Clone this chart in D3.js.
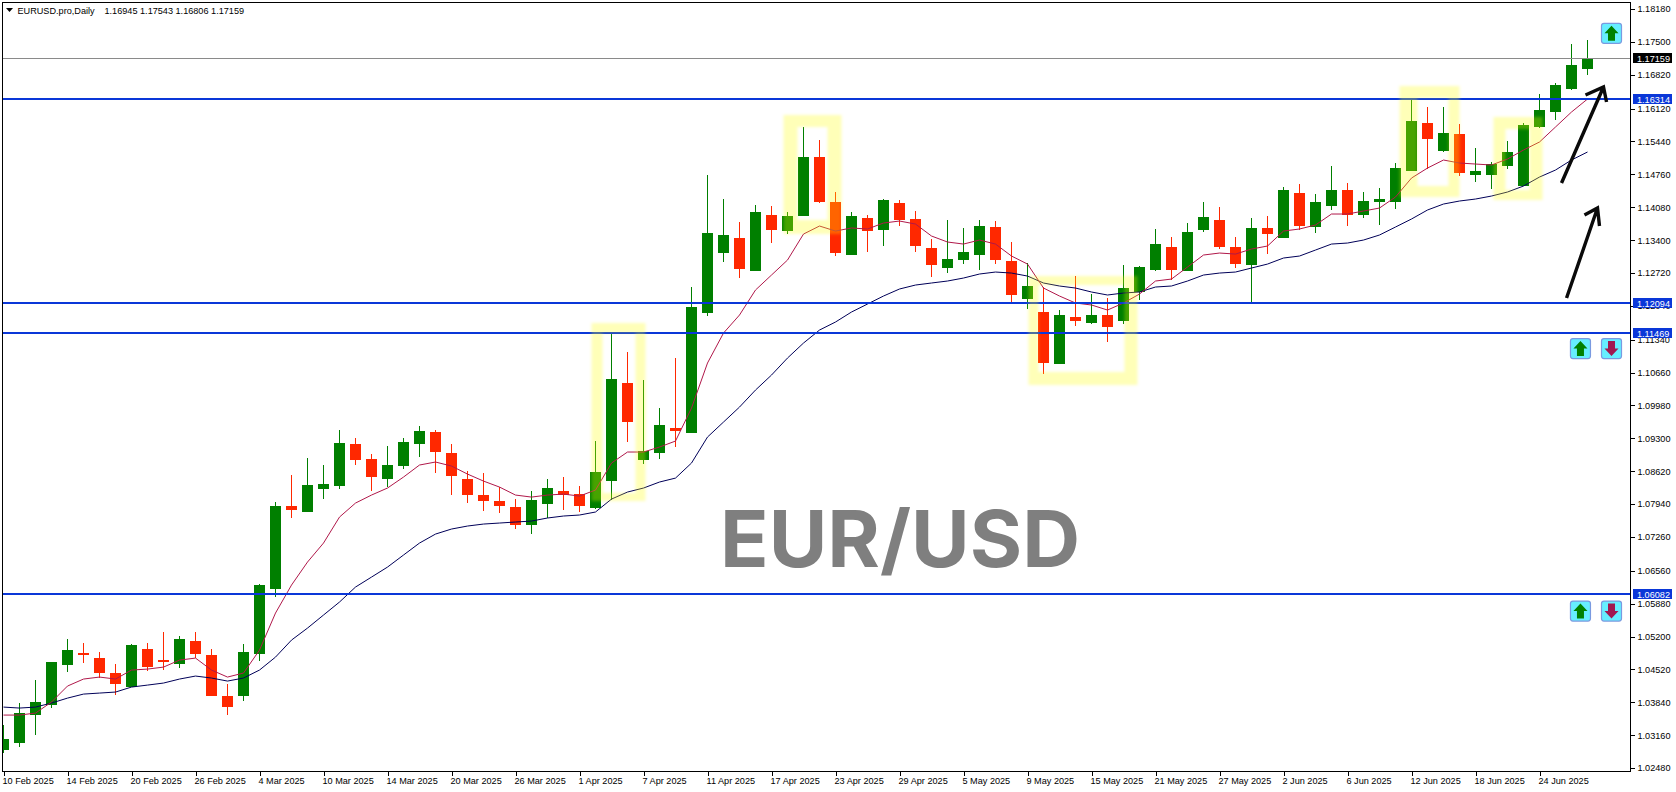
<!DOCTYPE html>
<html>
<head>
<meta charset="utf-8">
<title>EURUSD Daily</title>
<script src="https://cdn.jsdelivr.net/npm/d3@7/dist/d3.min.js"></script>
<style>
html,body{margin:0;padding:0;background:#fff;overflow:hidden}
svg{display:block}
text{font-family:"Liberation Sans",Arial,sans-serif}
</style>
</head>
<body>
<svg id="chart" width="1676" height="792"></svg>
<script>
const symbolLabel = "EURUSD.pro,Daily";
const ohlcLabel = ["1.16945","1.17543","1.16806","1.17159"];
const watermark = "EUR/USD";

const opens = [1.02851,1.02995,1.03575,1.03782,1.04609,1.04857,1.04754,1.04444,1.04154,1.04940,
1.04712,1.04629,1.05105,1.04816,1.03968,1.03968,1.04836,1.06181,1.07898,1.07775,
1.08250,1.08312,1.09181,1.08871,1.08457,1.08726,1.09181,1.09429,1.08995,1.08457,
1.08126,1.08001,1.07877,1.07506,1.07939,1.08208,1.08146,1.07857,1.08415,1.10443,
1.08850,1.08995,1.09512,1.09408,1.11891,1.13132,1.13443,1.12759,1.13919,1.13587,
1.13898,1.15118,1.14188,1.13091,1.13856,1.13608,1.14167,1.13836,1.13236,1.12822,
1.12987,1.13091,1.13670,1.12966,1.12181,1.11912,1.10836,1.11808,1.11684,1.11850,
1.11725,1.12326,1.12780,1.13256,1.12759,1.13608,1.13815,1.13256,1.12884,1.13650,
1.13443,1.14373,1.13670,1.14105,1.14435,1.13919,1.14188,1.14188,1.14828,1.15822,
1.15242,1.15594,1.14746,1.14746,1.14932,1.14518,1.15739,1.16049,1.16525,1.16945];

const highs = [1.03368,1.03823,1.04299,1.04671,1.05147,1.05064,1.04878,1.04629,1.05043,1.05064,
1.05292,1.05209,1.05292,1.04940,1.04216,1.05043,1.06284,1.07981,1.08540,1.08892,
1.08747,1.09470,1.09305,1.08974,1.09140,1.09305,1.09553,1.09470,1.09181,1.08622,
1.08581,1.08291,1.08043,1.08208,1.08457,1.08498,1.08312,1.09243,1.11456,1.11084,
1.10505,1.09925,1.10960,1.12429,1.14746,1.14249,1.13774,1.14126,1.14105,1.13981,
1.15739,1.15470,1.14394,1.13981,1.13919,1.14249,1.14229,1.14001,1.13422,1.13815,
1.13650,1.13815,1.13794,1.13360,1.12925,1.12429,1.11953,1.12656,1.12284,1.12201,
1.12884,1.12863,1.13629,1.13463,1.13753,1.14188,1.14084,1.13463,1.13856,1.13898,
1.14497,1.14559,1.14352,1.14932,1.14580,1.14394,1.14477,1.14994,1.16318,1.16152,
1.16152,1.15801,1.15305,1.15015,1.15449,1.15822,1.16421,1.16649,1.17456,1.17543];

const lows = [1.02789,1.02912,1.03161,1.03720,1.04465,1.04650,1.04341,1.03989,1.04154,1.04485,
1.04506,1.04547,1.04754,1.03968,1.03575,1.03864,1.04691,1.06016,1.07651,1.07775,
1.08043,1.08250,1.08747,1.08208,1.08291,1.08664,1.08912,1.08581,1.08126,1.07960,
1.07795,1.07754,1.07423,1.07319,1.07651,1.07816,1.07775,1.07836,1.08022,1.09223,
1.08767,1.08871,1.09119,1.09408,1.11829,1.12946,1.12615,1.12759,1.13339,1.13525,
1.13898,1.14167,1.13070,1.13091,1.13153,1.13277,1.13691,1.13153,1.12635,1.12718,
1.12904,1.12780,1.12904,1.12098,1.11974,1.10629,1.10836,1.11622,1.11663,1.11291,
1.11663,1.12160,1.12759,1.12574,1.12759,1.13567,1.13215,1.12822,1.12119,1.13111,
1.13443,1.13608,1.13546,1.14022,1.13691,1.13856,1.13712,1.14043,1.14828,1.14870,
1.15222,1.14725,1.14601,1.14456,1.14870,1.14518,1.15718,1.15884,1.16504,1.16806];

const closes = [1.03078,1.03616,1.03844,1.04671,1.04919,1.04816,1.04444,1.04216,1.05023,1.04567,
1.04671,1.05147,1.04836,1.03968,1.03740,1.04878,1.06264,1.07898,1.07816,1.08333,
1.08353,1.09202,1.08850,1.08498,1.08747,1.09223,1.09449,1.09016,1.08519,1.08126,
1.08001,1.07898,1.07506,1.08022,1.08271,1.08126,1.07898,1.08602,1.10526,1.09636,
1.09036,1.09574,1.09449,1.12015,1.13546,1.13505,1.12801,1.13981,1.13608,1.13898,
1.15118,1.14188,1.13132,1.13898,1.13587,1.14229,1.13815,1.13277,1.12884,1.13008,
1.13153,1.13691,1.12987,1.12264,1.12450,1.10857,1.11850,1.11725,1.11850,1.11601,
1.12408,1.12842,1.13318,1.12780,1.13567,1.13877,1.13256,1.12904,1.13650,1.13525,
1.14435,1.13691,1.14188,1.14435,1.13919,1.14208,1.14249,1.14890,1.15863,1.15491,
1.15615,1.14787,1.14828,1.14973,1.15222,1.15780,1.16090,1.16608,1.17022,1.17159];

const fastMA = [1.03575,1.03575,1.03616,1.03844,1.04175,1.04320,1.04361,1.04320,1.04506,1.04526,
1.04567,1.04712,1.04754,1.04506,1.04361,1.04444,1.04919,1.05685,1.06264,1.06740,
1.07133,1.07671,1.07960,1.08126,1.08271,1.08498,1.08747,1.08809,1.08726,1.08560,
1.08415,1.08291,1.08126,1.08084,1.08126,1.08146,1.08105,1.08229,1.08788,1.09016,
1.09016,1.09119,1.09243,1.09925,1.10857,1.11477,1.11850,1.12367,1.12677,1.12987,
1.13525,1.13691,1.13587,1.13650,1.13629,1.13753,1.13794,1.13732,1.13484,1.13360,
1.13318,1.13401,1.13318,1.13070,1.12904,1.12408,1.12243,1.12098,1.12057,1.11953,
1.12098,1.12284,1.12553,1.12594,1.12842,1.13091,1.13132,1.13111,1.13215,1.13277,
1.13587,1.13629,1.13712,1.13939,1.13939,1.14001,1.14063,1.14291,1.14683,1.14890,
1.15056,1.14994,1.14973,1.14953,1.15077,1.15263,1.15429,1.15739,1.16049,1.16318];

const slowMA = [1.03740,1.03720,1.03740,1.03823,1.03926,1.04009,1.04030,1.04051,1.04154,1.04195,
1.04237,1.04320,1.04382,1.04341,1.04278,1.04341,1.04506,1.04774,1.05126,1.05374,
1.05644,1.05913,1.06223,1.06429,1.06636,1.06885,1.07133,1.07319,1.07423,1.07485,
1.07526,1.07547,1.07568,1.07588,1.07651,1.07692,1.07713,1.07775,1.08043,1.08188,
1.08271,1.08395,1.08477,1.08788,1.09326,1.09636,1.09946,1.10298,1.10608,1.10960,
1.11270,1.11539,1.11705,1.11912,1.12077,1.12243,1.12388,1.12470,1.12512,1.12553,
1.12615,1.12698,1.12739,1.12718,1.12656,1.12512,1.12450,1.12408,1.12326,1.12264,
1.12305,1.12326,1.12429,1.12450,1.12553,1.12677,1.12718,1.12739,1.12822,1.12904,
1.13029,1.13070,1.13194,1.13318,1.13339,1.13401,1.13505,1.13670,1.13836,1.14022,
1.14146,1.14208,1.14249,1.14311,1.14394,1.14518,1.14704,1.14849,1.15056,1.15222];

const dateLabels = ["10 Feb 2025","14 Feb 2025","20 Feb 2025","26 Feb 2025","4 Mar 2025","10 Mar 2025","14 Mar 2025","20 Mar 2025","26 Mar 2025","1 Apr 2025","7 Apr 2025","11 Apr 2025","17 Apr 2025","23 Apr 2025","29 Apr 2025","5 May 2025","9 May 2025","15 May 2025","21 May 2025","27 May 2025","2 Jun 2025","6 Jun 2025","12 Jun 2025","18 Jun 2025","24 Jun 2025"];
const dateEveryBars = 4;
const priceTicks = [1.18180,1.17500,1.16820,1.16120,1.15440,1.14760,1.14080,1.13400,1.12720,1.12040,1.11340,1.10660,1.09980,1.09300,1.08620,1.07940,1.07260,1.06560,1.05880,1.05200,1.04520,1.03840,1.03160,1.02480];
const levels = [1.16314,1.12094,1.11469,1.06082];
const lastPrice = 1.17159;

// annotation shapes, in bar-index / price units
const zones = [
  {o:[36.75,40.125,1.11684,1.08001], i:[37.44,39.5,1.11477,1.08167]},
  {o:[48.75,52.375,1.15987,1.13525], i:[49.625,51.5,1.15739,1.13815]},
  {o:[64.06,70.875,1.12656,1.10402], i:[64.69,70.06,1.12470,1.10671]},
  {o:[87.25,91,1.16587,1.14291],     i:[88.375,90.31,1.16339,1.14518]},
  {o:[93.125,96.19,1.15946,1.14229], i:[93.875,95.375,1.15698,1.14435]}
];
const arrows = [
  {from:[97.375,1.14580], tip:[100,1.16566], a:[98.875,1.16401], b:[100.19,1.16256]},
  {from:[97.69,1.12201],  tip:[99.625,1.14063], a:[98.81,1.13919], b:[99.75,1.13691]}
];
const buttons = [
  {bar:100.5,  price:1.17676, dir:"up"},
  {bar:98.56,  price:1.11156, dir:"up"},
  {bar:100.5,  price:1.11156, dir:"down"},
  {bar:98.56,  price:1.05726, dir:"up"},
  {bar:100.5,  price:1.05726, dir:"down"}
];

(function(){
const plotL = 2.5, plotR = 1630.5, plotT = 2.5, plotB = 771.5;
const GREEN = "#007f00", RED = "#ff2800", BLUE = "#0a37d8";
const LABEL_SIZE = 9.15;

const svg = d3.select("#chart");
const bars = d3.range(opens.length);
const x = d3.scaleLinear().domain([0, 99]).range([3.5, 1587.5]);
const y = d3.scaleLinear().domain([1.0248, 1.1818]).range([768, 9]);

const defs = svg.append("defs");
defs.append("clipPath").attr("id","plot")
   .append("rect").attr("x",plotL).attr("y",plotT).attr("width",plotR-plotL).attr("height",plotB-plotT);
const filt = defs.append("filter").attr("id","soft")
   .attr("filterUnits","userSpaceOnUse").attr("x",0).attr("y",0).attr("width",1676).attr("height",792);
filt.append("feGaussianBlur").attr("stdDeviation",1.6);

const plot = svg.append("g").attr("clip-path","url(#plot)");

// watermark
plot.append("text").attr("x",720).attr("y",567)
  .attr("font-size",78.5).attr("font-weight",700)
  .style("font-family","Inter, Lato, sans-serif")
  .attr("fill","#7f7f7f")
  .attr("textLength",360).attr("lengthAdjust","spacingAndGlyphs")
  .text(watermark);

// candles
const candles = plot.append("g").attr("shape-rendering","crispEdges");
candles.selectAll("line").data(bars).join("line")
  .attr("x1", i=>x(i)).attr("x2", i=>x(i))
  .attr("y1", i=>Math.round(y(highs[i]))).attr("y2", i=>Math.round(y(lows[i])))
  .attr("stroke", i=>closes[i]>=opens[i]?GREEN:RED).attr("stroke-width",1);
candles.selectAll("rect").data(bars).join("rect")
  .attr("x", i=>x(i)-5.5).attr("width",11)
  .attr("y", i=>Math.round(y(Math.max(opens[i],closes[i]))))
  .attr("height", i=>Math.max(2,Math.round(y(Math.min(opens[i],closes[i])))-Math.round(y(Math.max(opens[i],closes[i])))))
  .attr("fill", i=>closes[i]>=opens[i]?GREEN:RED);

// moving averages
const line = d3.line().x((d,i)=>x(i)).y(d=>y(d));
plot.append("path").attr("d",line(slowMA)).attr("fill","none").attr("stroke","#000058").attr("stroke-width",1);
plot.append("path").attr("d",line(fastMA)).attr("fill","none").attr("stroke","#b0184a").attr("stroke-width",1);

// last price + levels
plot.append("line").attr("x1",plotL).attr("x2",plotR).attr("y1",Math.round(y(lastPrice))+.5).attr("y2",Math.round(y(lastPrice))+.5)
  .attr("stroke","#8a8a8a").attr("stroke-width",1);
plot.selectAll("line.level").data(levels).join("line").attr("class","level")
  .attr("x1",plotL).attr("x2",plotR)
  .attr("y1",d=>Math.round(y(d))).attr("y2",d=>Math.round(y(d)))
  .attr("stroke",BLUE).attr("stroke-width",2).attr("shape-rendering","crispEdges");

// highlighted zones (hollow frames)
const zoneLayer = plot.append("g").attr("filter","url(#soft)");
const rectPath = r => {
  const [a,b,c,d] = [x(r[0]),x(r[1]),y(r[2]),y(r[3])];
  return `M${a},${c}H${b}V${d}H${a}Z`;
};
zoneLayer.selectAll("path").data(zones).join("path")
  .attr("d", z=>rectPath(z.o)+rectPath(z.i))
  .attr("fill-rule","evenodd").attr("fill","rgba(255,255,0,0.28)");

// hand-drawn arrows
const arrowLayer = plot.append("g").attr("fill","none").attr("stroke","#0a0a0a").attr("stroke-width",3.4);
const pt = p => [x(p[0]),y(p[1])];
arrowLayer.selectAll("path").data(arrows).join("path")
  .attr("d", a=>d3.line()([pt(a.from),pt(a.tip)])+d3.line()([pt(a.a),pt(a.tip),pt(a.b)]));

// buttons
const btn = svg.append("g").selectAll("g").data(buttons).join("g")
  .attr("transform", b=>`translate(${x(b.bar)},${y(b.price)})`);
btn.append("rect").attr("x",-10).attr("y",-10).attr("width",20).attr("height",20).attr("rx",2.5)
  .attr("fill","#66eeff").attr("stroke","#7a9ae0").attr("stroke-width",1.2);
btn.append("path")
  .attr("d", b=> b.dir==="up" ? "M0,-7.5L7,0H3.5V7.5H-3.5V0H-7Z" : "M0,7.5L7,0H3.5V-7.5H-3.5V0H-7Z")
  .attr("fill", b=>b.dir==="up"?"#008000":"#a01850");

// frame
svg.append("rect").attr("x",plotL).attr("y",plotT).attr("width",plotR-plotL).attr("height",plotB-plotT)
  .attr("fill","none").attr("stroke","#000").attr("stroke-width",1).attr("shape-rendering","crispEdges");

// price axis
const yAxis = d3.axisRight(y).tickValues(priceTicks).tickFormat(d3.format(".5f")).tickSize(4).tickPadding(3);
const yG = svg.append("g").attr("transform",`translate(${plotR},0)`).call(yAxis);
yG.select(".domain").remove();
yG.selectAll("line").attr("stroke","#000").attr("shape-rendering","crispEdges");
yG.selectAll("text").attr("font-size",LABEL_SIZE).style("font-family",'"Liberation Sans",Arial,sans-serif').attr("fill","#000");

// date axis
const xAxis = d3.axisBottom(x).tickValues(dateLabels.map((d,i)=>i*dateEveryBars))
  .tickFormat((d,i)=>dateLabels[i]).tickSize(4).tickPadding(2);
const xG = svg.append("g").attr("transform",`translate(0,${plotB})`).call(xAxis);
xG.select(".domain").remove();
xG.selectAll("line").attr("stroke","#000").attr("shape-rendering","crispEdges");
xG.selectAll("text").attr("font-size",LABEL_SIZE).attr("text-anchor","start").attr("dx",-1.5)
  .style("font-family",'"Liberation Sans",Arial,sans-serif').attr("fill","#000");

// price flags
const flags = levels.map(v=>({v,bg:BLUE})).concat([{v:lastPrice,bg:"#000"}]);
const flag = svg.append("g").selectAll("g").data(flags).join("g")
  .attr("transform", f=>`translate(1633,${Math.round(y(f.v))})`);
flag.append("rect").attr("x",0).attr("y",-5).attr("width",39).attr("height",10).attr("fill",f=>f.bg);
flag.append("text").attr("x",4).attr("y",3.5).attr("font-size",LABEL_SIZE).attr("fill","#fff").text(f=>f.v.toFixed(5));

// header
svg.append("path").attr("d","M6,8H13L9.5,12Z").attr("fill","#000");
svg.append("text").attr("x",17.5).attr("y",13.5).attr("font-size",LABEL_SIZE).attr("fill","#000")
  .text(symbolLabel);
svg.append("text").attr("x",104.5).attr("y",13.5).attr("font-size",LABEL_SIZE).attr("fill","#000")
  .text(ohlcLabel.join(" "));
})();
</script>
</body>
</html>
